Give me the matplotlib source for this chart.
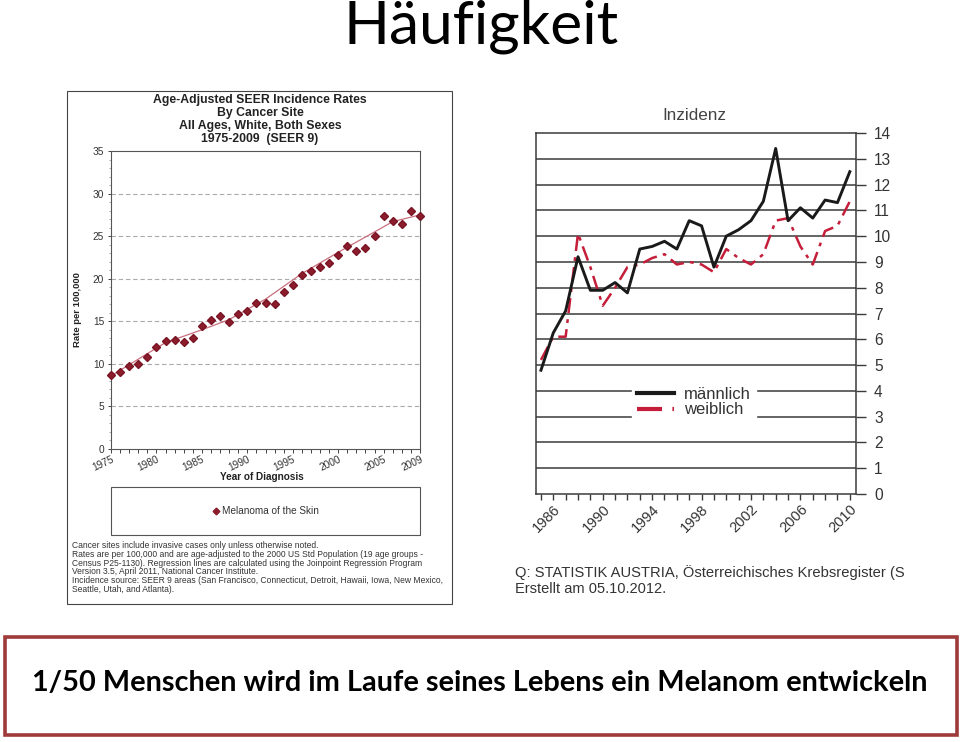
import matplotlib
matplotlib.use("Agg")
import matplotlib.pyplot as plt
from matplotlib.patches import Rectangle

# ---------------- data ----------------
seer_years = list(range(1975, 2010))
seer_rates = [8.7, 9.0, 9.8, 10.0, 10.8, 12.0, 12.7, 12.8, 12.6, 13.0,
              14.4, 15.1, 15.6, 14.9, 15.9, 16.2, 17.1, 17.2, 17.0, 18.4,
              19.3, 20.4, 20.9, 21.4, 21.9, 22.8, 23.8, 23.3, 23.6, 25.0,
              27.4, 26.8, 26.4, 27.9, 27.4]
fit_years = [1975, 1981, 1985, 1988, 1992, 1996, 2000, 2004, 2006, 2009]
fit_rates = [8.6, 12.5, 14.0, 15.2, 17.6, 20.6, 23.1, 25.5, 26.7, 27.5]
seer_xticks = [1975, 1980, 1985, 1990, 1995, 2000, 2005, 2009]
seer_yticks = [0, 5, 10, 15, 20, 25, 30, 35]

at_years = list(range(1985, 2011))
male = [4.8, 6.25, 7.1, 9.2, 7.9, 7.9, 8.2, 7.8, 9.5, 9.6,
        9.8, 9.5, 10.6, 10.4, 8.8, 10.0, 10.25, 10.6, 11.35, 13.4,
        10.6, 11.1, 10.7, 11.4, 11.3, 12.5]
female = [5.2, 6.1, 6.1, 10.1, 8.8, 7.3, 8.0, 8.8, 8.9, 9.15,
          9.3, 8.9, 9.0, 8.9, 8.6, 9.5, 9.15, 8.9, 9.3, 10.6,
          10.7, 9.6, 8.9, 10.2, 10.4, 11.35]
at_xticks = [1986, 1990, 1994, 1998, 2002, 2006, 2010]
at_yticks = list(range(0, 15))

W, H = 960, 742
fig = plt.figure(figsize=(W / 100, H / 100), dpi=100)
fig.patch.set_facecolor("white")

def px_axes(x0, y0, x1, y1, **kw):
    return fig.add_axes([x0 / W, 1 - y1 / H, (x1 - x0) / W, (y1 - y0) / H], **kw)

# overlay in pixel coordinates
ov = px_axes(0, 0, W, H)
ov.set_xlim(0, W)
ov.set_ylim(H, 0)
ov.axis("off")
ov.set_zorder(0)

SANS = ["Lato", "DejaVu Sans"]
ARIAL = ["Liberation Sans", "DejaVu Sans"]

# slide title
ov.text(481, 27, "Häufigkeit", ha="center", va="center", fontsize=43.5,
        family=SANS, color="black")

# bottom box
ov.add_patch(Rectangle((5, 637), 952, 98, fill=False, edgecolor="#9E3A3A", lw=2.6))
ov.text(480, 683, "1/50 Menschen wird im Laufe seines Lebens ein Melanom entwickeln",
        ha="center", va="center", fontsize=20.8, fontweight="bold", family=SANS, color="black")

# ---------------- left chart (SEER) ----------------
ov.add_patch(Rectangle((67, 91), 385, 513, fill=False, edgecolor="#444444", lw=0.8))
title_lines = ["Age-Adjusted SEER Incidence Rates", "By Cancer Site",
               "All Ages, White, Both Sexes", "1975-2009  (SEER 9)"]
for i, t in enumerate(title_lines):
    ov.text(260, 100 + i * 13, t, ha="center", va="center", fontsize=8.8,
            fontweight="bold", family=ARIAL, color="#222222")

axL = px_axes(111, 151, 420, 449)
axL.set_xlim(1975, 2009)
axL.set_ylim(0, 35)
for y in seer_yticks[1:-1]:
    axL.axhline(y, color="#aaaaaa", lw=0.8, ls=(0, (4, 2.5)), zorder=1)
axL.plot(fit_years, fit_rates, color="#c8707e", lw=0.9, zorder=2)
axL.plot(seer_years, seer_rates, ls="none", marker="D", ms=3.9, color="#8a1c2c",
         mec="#7a1424", zorder=3, clip_on=False)
axL.set_xticks(seer_xticks)
axL.set_xticks(list(range(1975, 2010)), minor=True)
axL.set_yticks(seer_yticks)
axL.set_yticks(list(range(0, 36)), minor=True)
axL.tick_params(axis="x", which="both", direction="out", length=3, width=0.7,
                colors="#444444", labelsize=7.3, pad=1)
axL.tick_params(axis="y", which="major", direction="out", length=2, width=0.7,
                colors="#444444", labelsize=7.3, pad=3)
axL.tick_params(axis="y", which="minor", direction="out", length=1.5, width=0.5, colors="#888888")
for lab in axL.get_xticklabels():
    lab.set_rotation(25)
    lab.set_ha("right")
    lab.set_va("top")
    lab.set_rotation_mode("anchor")
    lab.set_color("#333333")
    lab.set_family(ARIAL)
for lab in axL.get_yticklabels():
    lab.set_color("#333333")
    lab.set_family(ARIAL)
for s in axL.spines.values():
    s.set_color("#555555")
    s.set_linewidth(0.8)

ov.text(262, 477, "Year of Diagnosis", ha="center", va="center", fontsize=7.2,
        fontweight="bold", family=ARIAL, color="#222222")
ov.text(77, 310, "Rate per 100,000", ha="center", va="center", fontsize=6.8,
        fontweight="bold", family=ARIAL, rotation=90, color="#222222")

ov.add_patch(Rectangle((111, 487), 309, 48, fill=False, edgecolor="#555555", lw=0.8))
ov.plot([216], [511], ls="none", marker="D", ms=3.4, color="#8a1c2c")
ov.text(222, 511, "Melanoma of the Skin", ha="left", va="center", fontsize=7.2,
        family=ARIAL, color="#333333")

notes = ["Cancer sites include invasive cases only unless otherwise noted.",
         "Rates are per 100,000 and are age-adjusted to the 2000 US Std Population (19 age groups -",
         "Census P25-1130). Regression lines are calculated using the Joinpoint Regression Program",
         "Version 3.5, April 2011, National Cancer Institute.",
         "Incidence source: SEER 9 areas (San Francisco, Connecticut, Detroit, Hawaii, Iowa, New Mexico,",
         "Seattle, Utah, and Atlanta)."]
for i, t in enumerate(notes):
    ov.text(72, 546 + i * 8.6, t, ha="left", va="center", fontsize=6.15,
            family=ARIAL, color="#333333")

# ---------------- right chart (Austria) ----------------
axR = px_axes(536, 133, 856, 494)
axR.set_xlim(1984.6, 2010.5)
axR.set_ylim(0, 14)
for y in at_yticks[1:-1]:
    axR.axhline(y, color="#3a3a3a", lw=1.1, zorder=1)
axR.plot(at_years, male, color="#1a1a1a", lw=2.1, zorder=3, label="männlich")
axR.plot(at_years, female, color="#c41e3a", lw=1.8, ls=(0, (6, 2.5, 1.5, 2.5)),
         zorder=2, label="weiblich")
axR.set_xticks(at_xticks)
axR.set_xticks(list(range(1985, 2011)), minor=True)
axR.set_yticks(at_yticks)
axR.yaxis.tick_right()
axR.tick_params(axis="x", which="both", direction="out", length=4, width=1.0,
                colors="#3a3a3a", labelsize=10.5, labelcolor="#333333", pad=2)
axR.tick_params(axis="y", which="major", direction="out", length=7, width=1.0,
                colors="#3a3a3a", labelsize=11.2, labelcolor="#333333", pad=6)
for lab in axR.get_xticklabels():
    lab.set_rotation(45)
    lab.set_ha("right")
    lab.set_va("top")
    lab.set_rotation_mode("anchor")
    lab.set_family(ARIAL)
for lab in axR.get_yticklabels():
    lab.set_family(ARIAL)
for s in axR.spines.values():
    s.set_color("#3a3a3a")
    s.set_linewidth(1.1)

leg = axR.legend(loc="center", bbox_to_anchor=(0.494, 0.255), frameon=True,
                 fancybox=False, edgecolor="white", facecolor="white", framealpha=1,
                 handlelength=2.2, handletextpad=0.6, labelspacing=0.05,
                 borderpad=0.3, borderaxespad=0,
                 prop={"family": ARIAL, "size": 12})
for t in leg.get_texts():
    t.set_color("#333333")
for h in leg.get_lines():
    h.set_linewidth(3.0)
leg.set_zorder(5)

ov2 = px_axes(0, 0, W, H)
ov2.set_xlim(0, W)
ov2.set_ylim(H, 0)
ov2.axis("off")
ov2.patch.set_alpha(0)
ov2.text(694, 115, "Inzidenz", ha="center", va="center", fontsize=12.3,
         family=ARIAL, color="#444444")
ov2.text(515, 573, "Q: STATISTIK AUSTRIA, Österreichisches Krebsregister (S",
         ha="left", va="center", fontsize=10.6, family=ARIAL, color="#333333")
ov2.text(515, 589, "Erstellt am 05.10.2012.", ha="left", va="center", fontsize=10.5,
         family=ARIAL, color="#333333")

fig.savefig("out.png", dpi=100)
